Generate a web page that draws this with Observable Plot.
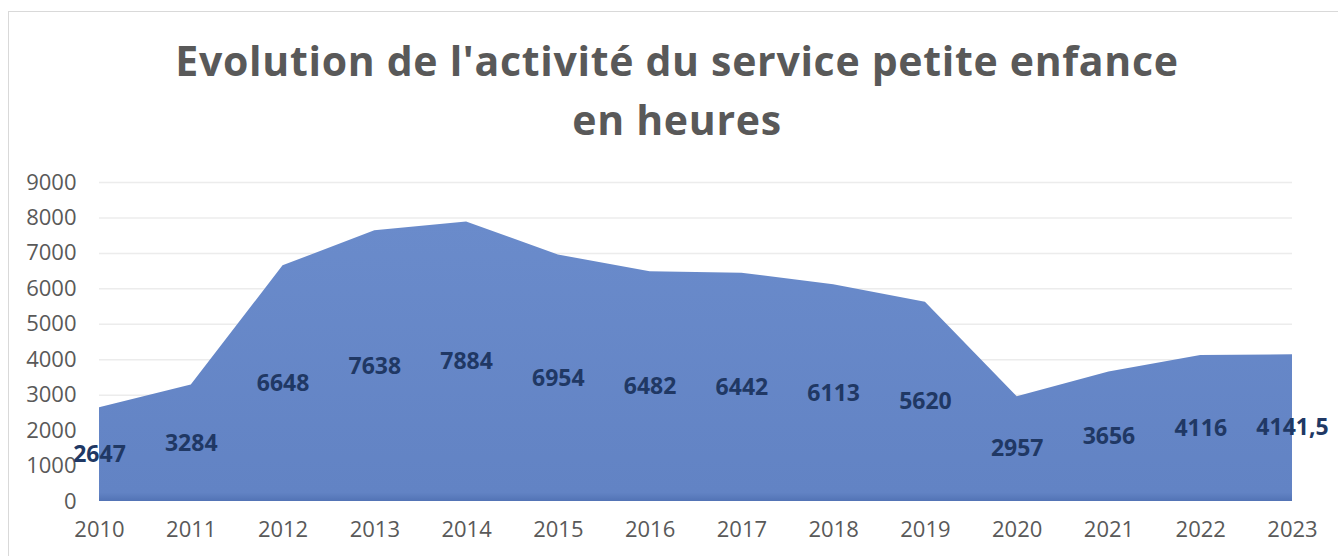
<!DOCTYPE html>
<html>
<head>
<meta charset="utf-8">
<script src="https://cdn.jsdelivr.net/npm/d3@7"></script>
<script src="https://cdn.jsdelivr.net/npm/@observablehq/plot@0.6"></script>
<style>
  html, body { margin: 0; padding: 0; background: #fff; width: 1338px; height: 556px; overflow: hidden; }
  #frame { position: absolute; left: 8px; top: 11px; width: 1340px; height: 560px; border-left: 1.5px solid #d9d9d9; border-top: 1.5px solid #d9d9d9; }
  #title { position: absolute; left: 0; top: 31px; width: 1354px; text-align: center; font-family: "Open Sans", sans-serif; font-weight: 700; font-size: 41px; line-height: 59px; color: #595959; letter-spacing: 0.7px; }
  #chart { position: absolute; left: 0; top: 160px; }
</style>
</head>
<body>
<div id="frame"></div>
<div id="title">Evolution de l'activité du service petite enfance<br>en heures</div>
<div id="chart"></div>
<script>
const years = [2010, 2011, 2012, 2013, 2014, 2015, 2016, 2017, 2018, 2019, 2020, 2021, 2022, 2023];
const hours = [2647, 3284, 6648, 7638, 7884, 6954, 6482, 6442, 6113, 5620, 2957, 3656, 4116, 4141.5];
const valueLabels = ["2647", "3284", "6648", "7638", "7884", "6954", "6482", "6442", "6113", "5620", "2957", "3656", "4116", "4141,5"];
const yTicks = [0, 1000, 2000, 3000, 4000, 5000, 6000, 7000, 8000, 9000];

const data = years.map((y, i) => ({year: y, value: hours[i], label: valueLabels[i]}));

const plot = Plot.plot({
  width: 1338,
  height: 396,
  marginTop: 22,
  marginBottom: 55,
  marginLeft: 99,
  marginRight: 46,
  style: {fontFamily: "'Open Sans', sans-serif", fontSize: "22px", color: "#595959", background: "transparent"},
  x: {domain: [2010, 2023], ticks: years, tickFormat: d => String(d), label: null, tickSize: 0, tickPadding: 20},
  y: {domain: [0, 9000], ticks: yTicks, tickFormat: d => String(d), label: null, tickSize: 0, tickPadding: 23},
  marks: [
    Plot.ruleY(yTicks.filter(t => t > 0), {stroke: "#ececec", strokeWidth: 1.5}),
    () => {
      const svg = d3.create("svg:defs");
      const g = svg.append("linearGradient").attr("id", "areaGrad").attr("x1", 0).attr("y1", 0).attr("x2", 0).attr("y2", 1);
      g.append("stop").attr("offset", "0%").attr("stop-color", "#6a8bcb");
      g.append("stop").attr("offset", "97%").attr("stop-color", "#6283c4");
      g.append("stop").attr("offset", "100%").attr("stop-color", "#5273b5");
      return svg.node();
    },
    Plot.areaY(data, {x: "year", y: "value", fill: "url(#areaGrad)"}),
    Plot.text(data, {x: "year", y: d => d.value / 2, text: "label", fill: "#203864", fontWeight: "bold", fontSize: 23})
  ]
});
document.getElementById("chart").appendChild(plot);
</script>
</body>
</html>
